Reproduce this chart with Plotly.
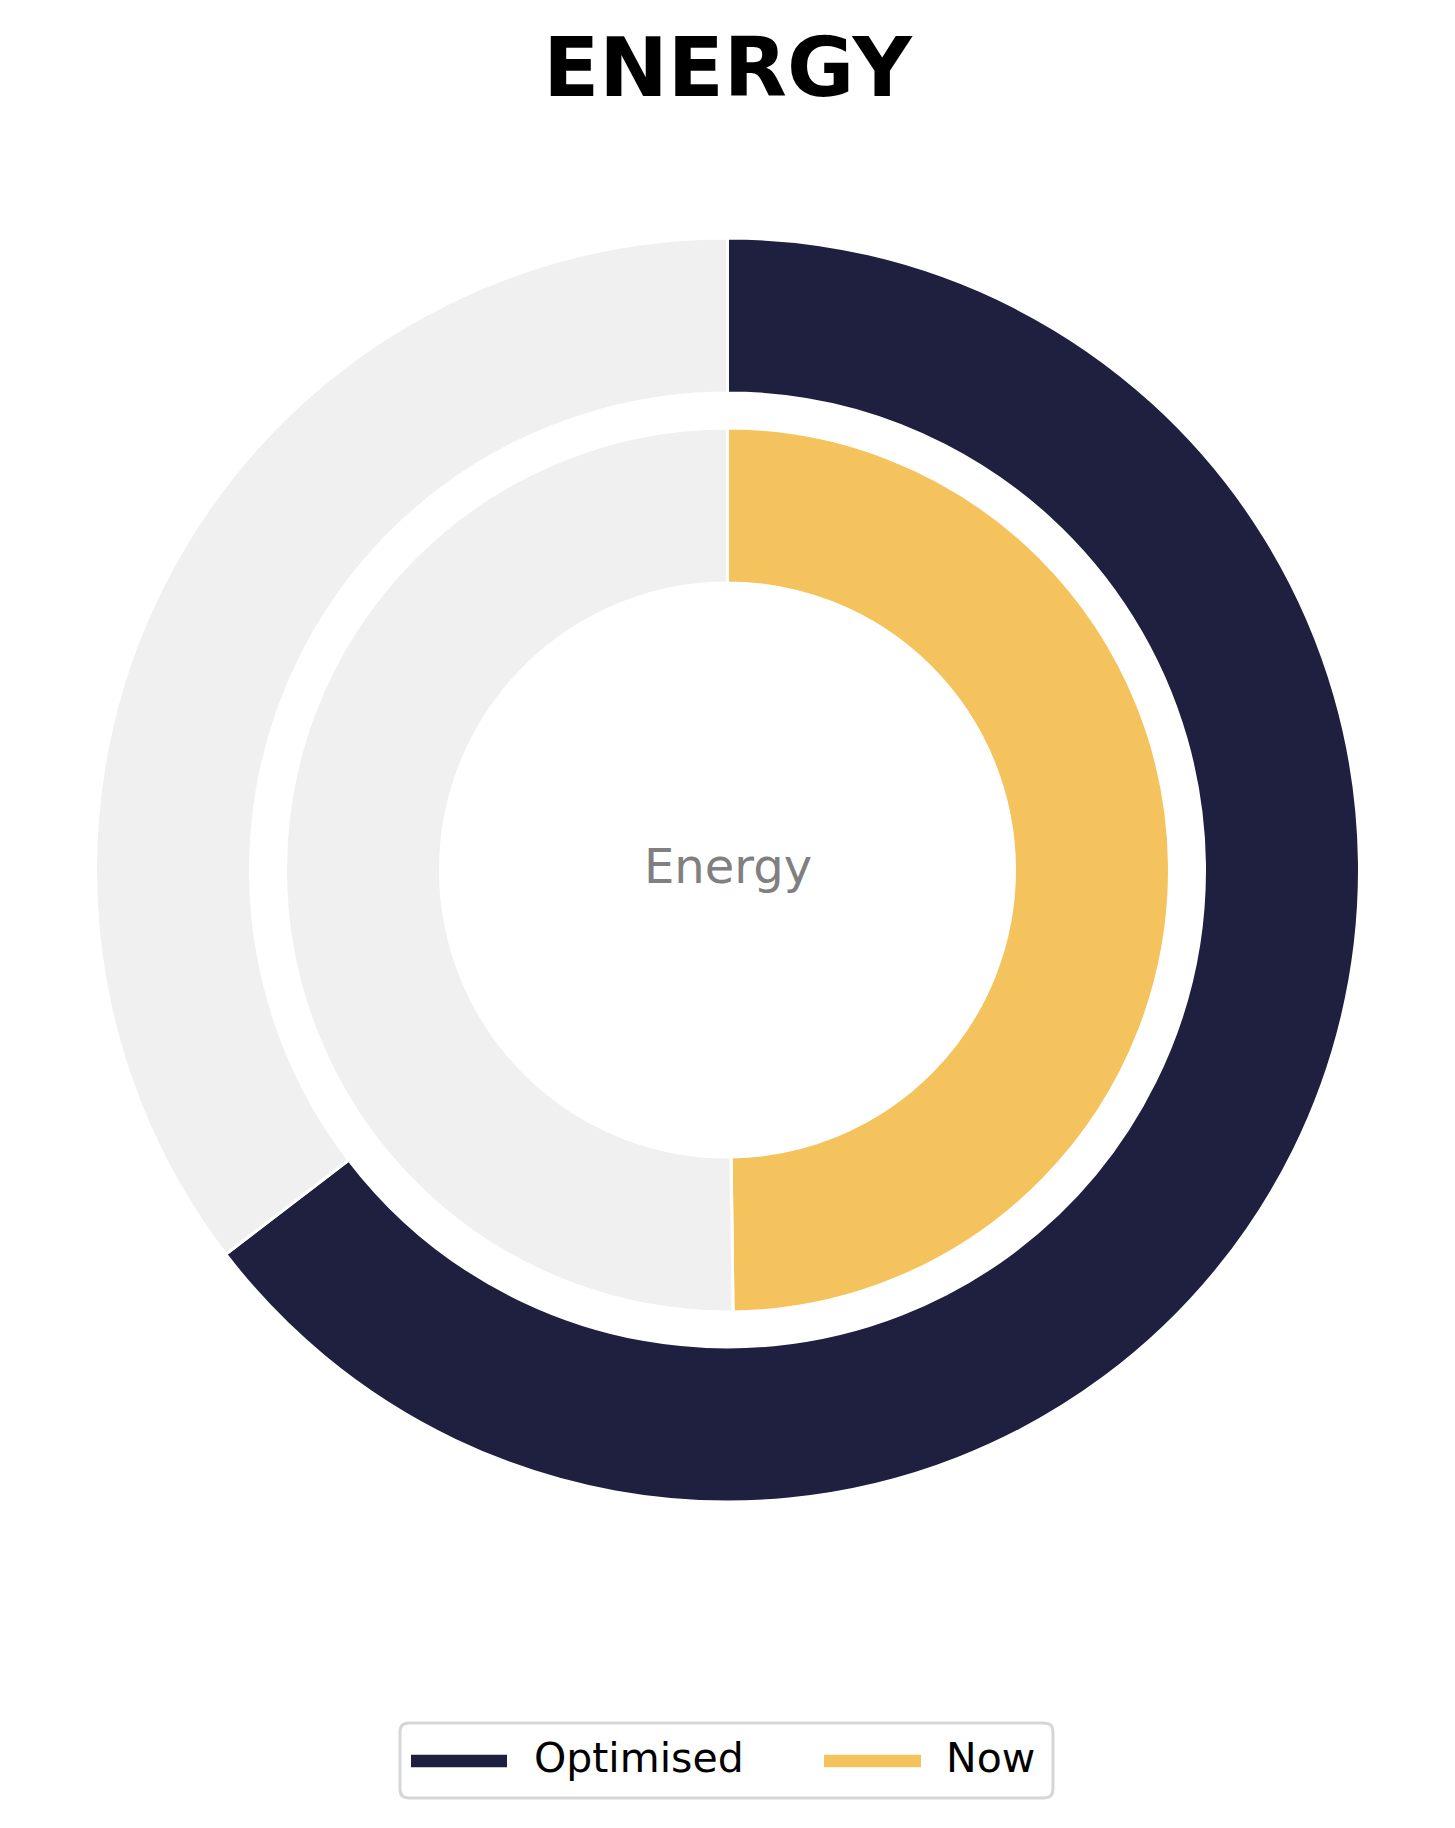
import plotly.graph_objects as go

# ---- data ----
ring_labels = ["Value", "Remainder"]
optimised_values = [64.6, 35.4]
now_values = [49.8, 50.2]
series_names = ["Optimised", "Now"]
title_text = "ENERGY"
center_text = "Energy"

NAVY = "#1F1F3F"
YELLOW = "#F5C35D"
GREY = "#F0F0F0"

W, H = 1455, 1828


def px(x):
    return x / W


def py(y):
    return 1 - y / H


cx, cy = 727.5, 870
r_out, r_out_in = 632, 477
r_in, r_in_in = 442, 287

fig = go.Figure()
fig.add_trace(go.Pie(
    values=optimised_values, labels=ring_labels, name=series_names[0],
    sort=False, direction="clockwise", rotation=0,
    hole=r_out_in / r_out,
    marker=dict(colors=[NAVY, GREY], line=dict(color="white", width=3)),
    textinfo="none", hoverinfo="label+value", showlegend=False,
    domain=dict(x=[px(cx - r_out), px(cx + r_out)], y=[py(cy + r_out), py(cy - r_out)]),
))
fig.add_trace(go.Pie(
    values=now_values, labels=ring_labels, name=series_names[1],
    sort=False, direction="clockwise", rotation=0,
    hole=r_in_in / r_in,
    marker=dict(colors=[YELLOW, GREY], line=dict(color="white", width=3)),
    textinfo="none", hoverinfo="label+value", showlegend=False,
    domain=dict(x=[px(cx - r_in), px(cx + r_in)], y=[py(cy + r_in), py(cy - r_in)]),
))

# ---- legend box (matplotlib-style) ----
x0, x1, y0, y1, rr = 400, 1053, 1723, 1798, 9


def P(x, y):
    return f"{px(x):.5f},{py(y):.5f}"


path = (f"M {P(x0 + rr, y0)} L {P(x1 - rr, y0)} Q {P(x1, y0)} {P(x1, y0 + rr)} "
        f"L {P(x1, y1 - rr)} Q {P(x1, y1)} {P(x1 - rr, y1)} "
        f"L {P(x0 + rr, y1)} Q {P(x0, y1)} {P(x0, y1 - rr)} "
        f"L {P(x0, y0 + rr)} Q {P(x0, y0)} {P(x0 + rr, y0)} Z")
shapes = [dict(type="path", path=path, xref="paper", yref="paper",
               line=dict(color="#D6D6D6", width=3), fillcolor="white", layer="above")]
ly = 1761
for (hx0, hx1, col) in [(411, 507, NAVY), (824, 921, YELLOW)]:
    shapes.append(dict(type="line", xref="paper", yref="paper",
                       x0=px(hx0), x1=px(hx1), y0=py(ly), y1=py(ly),
                       line=dict(color=col, width=12.5), layer="above"))

annotations = [
    dict(text=center_text, x=px(cx), y=py(866), xref="paper", yref="paper",
         showarrow=False, xanchor="center", yanchor="middle",
         font=dict(family="DejaVu Sans", size=48, color="#808080")),
]
for name, tx in zip(series_names, [532, 944]):
    annotations.append(dict(text=name, x=px(tx), y=py(1758), xref="paper", yref="paper",
                            showarrow=False, xanchor="left", yanchor="middle",
                            font=dict(family="DejaVu Sans", size=41, color="black")))

fig.update_layout(
    width=W, height=H,
    margin=dict(l=0, r=0, t=0, b=0),
    paper_bgcolor="white", plot_bgcolor="white",
    title=dict(text=f"<b>{title_text}</b>", x=0.5, xanchor="center",
               y=py(67), yanchor="middle",
               font=dict(family="DejaVu Sans", size=82, color="black")),
    shapes=shapes, annotations=annotations,
    showlegend=False,
)

fig.write_html("out.html")
